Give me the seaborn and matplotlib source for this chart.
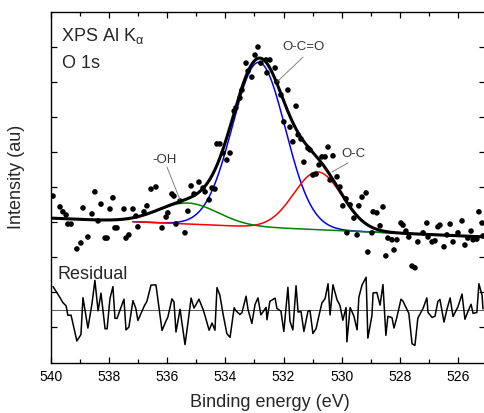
import numpy as np
import matplotlib
matplotlib.use("Agg")
import matplotlib.pyplot as plt
import seaborn as sns
from matplotlib.ticker import MultipleLocator, FixedLocator

# ---------------- data ----------------
energy = [539.93, 539.69, 539.59, 539.48, 539.42, 539.31, 539.11, 538.97, 538.90, 538.73,
          538.59, 538.49, 538.38, 538.28, 538.14, 538.07, 537.97, 537.87, 537.80, 537.73,
          537.49, 537.42, 537.32, 537.18, 537.08, 537.01, 536.80, 536.70, 536.56, 536.39,
          536.18, 536.04, 535.98, 535.84, 535.77, 535.70, 535.56, 535.39, 535.29, 535.18,
          535.08, 534.91, 534.77, 534.70, 534.56, 534.46, 534.36, 534.29, 534.19, 534.08,
          533.95, 533.84, 533.70, 533.64, 533.50, 533.43, 533.29, 533.22, 533.09, 532.98,
          532.88, 532.78, 532.60, 532.57, 532.47, 532.29, 532.23, 532.09, 531.99, 531.85,
          531.78, 531.68, 531.57, 531.50, 531.40, 531.30, 531.16, 531.09, 530.99, 530.88,
          530.78, 530.68, 530.57, 530.47, 530.40, 530.30, 530.16, 530.06, 529.96, 529.85,
          529.82, 529.71, 529.58, 529.47, 529.41, 529.30, 529.16, 529.10, 528.96, 528.92,
          528.79, 528.68, 528.58, 528.48, 528.41, 528.27, 528.20, 528.10, 527.96, 527.89,
          527.79, 527.69, 527.58, 527.48, 527.38, 527.20, 527.07, 527.03, 526.89, 526.79,
          526.69, 526.62, 526.48, 526.38, 526.27, 526.17, 526.00, 525.86, 525.76, 525.66,
          525.55, 525.48, 525.35, 525.28, 525.17, 525.14]
intensity = [4.74, 4.43, 4.29, 4.20, 3.94, 3.94, 3.23, 3.40, 4.40, 3.57,
             4.23, 4.86, 4.03, 4.51, 3.54, 3.54, 4.37, 4.69, 3.83, 3.83,
             4.37, 3.54, 3.63, 4.37, 4.17, 3.86, 4.29, 4.46, 4.94, 5.00,
             3.83, 4.14, 4.26, 4.80, 4.74, 3.94, 4.60, 3.69, 4.31, 5.03,
             4.80, 5.14, 4.97, 4.86, 4.63, 4.97, 4.94, 6.23, 6.23, 5.97,
             5.77, 5.97, 7.17, 7.26, 7.54, 7.77, 8.54, 8.31, 8.14, 8.77,
             9.00, 8.54, 8.63, 8.26, 8.63, 8.40, 8.00, 7.63, 6.86, 7.77,
             6.71, 6.29, 7.31, 6.49, 6.37, 5.71, 6.11, 6.06, 5.34, 5.37,
             5.63, 5.86, 5.86, 6.14, 5.20, 5.89, 5.29, 5.00, 4.46, 4.66,
             3.69, 4.49, 4.11, 3.63, 4.46, 4.71, 4.83, 3.14, 3.69, 4.29,
             4.26, 3.89, 4.43, 3.03, 3.54, 3.49, 3.20, 3.49, 3.97, 3.91,
             3.74, 3.57, 2.74, 2.69, 3.43, 3.69, 3.97, 3.57, 3.43, 3.46,
             3.86, 3.91, 3.29, 3.63, 3.94, 3.43, 3.69, 4.03, 3.34, 3.54,
             3.74, 3.49, 3.51, 4.29, 3.97, 3.60]

# fitted components (Gaussian peak parameters) and linear background
peak_names = ["O-C=O", "O-C", "-OH"]
peak_centers = [532.85, 530.82, 535.29]   # eV
peak_heights = [4.71, 1.65, 0.60]         # au
peak_sigmas = [0.91, 0.83, 1.03]          # eV
bg_energy = [525.0, 540.0]
bg_level = [3.57, 4.11]

residual_offset = 1.49
residual_scale = 1.05

x_ticks = [540, 538, 536, 534, 532, 530, 528, 526]
x_ticklabels = ["540", "538", "536", "534", "532", "530", "528", "526"]

# ---------------- style ----------------
sns.set_theme(style="ticks")
plt.rcParams["font.family"] = ["Liberation Sans", "DejaVu Sans"]
plt.rcParams["mathtext.fontset"] = "custom"
plt.rcParams["mathtext.rm"] = "Liberation Sans"
plt.rcParams["mathtext.it"] = "Liberation Sans"
plt.rcParams["mathtext.bf"] = "Liberation Sans:bold"

energy = np.array(energy)
intensity = np.array(intensity)


def background(e):
    return np.interp(e, bg_energy, bg_level)


def component(e, i):
    return peak_heights[i] * np.exp(-(e - peak_centers[i]) ** 2 / (2 * peak_sigmas[i] ** 2))


def envelope(e):
    return background(e) + sum(component(e, i) for i in range(len(peak_names)))


grid = np.linspace(540.0, 525.0, 800)
fit = envelope(grid)
residual = residual_offset + residual_scale * (intensity - envelope(energy))

fig = plt.figure(figsize=(4.85, 4.13), dpi=100)
ax = fig.add_axes([51 / 485, 1 - 363 / 413, 434 / 485, 351 / 413])

comp_colors = {"O-C=O": "#0000ff", "O-C": "#ff0000", "-OH": "#008000"}
comp_start = {"O-C=O": 537.2, "O-C": 537.2, "-OH": 540.0}
for name in ["O-C=O", "O-C", "-OH"]:
    i = peak_names.index(name)
    m = grid <= comp_start[name]
    sns.lineplot(x=grid[m], y=background(grid[m]) + component(grid[m], i), ax=ax,
                 color=comp_colors[name], lw=1.1, sort=False, estimator=None, zorder=2)

sns.lineplot(x=grid, y=fit, ax=ax, color="black", lw=2.2, sort=False,
             estimator=None, zorder=3)
sns.scatterplot(x=energy, y=intensity, ax=ax, color="black", s=16,
                edgecolor="none", zorder=4)

ax.axhline(residual_offset, color="#404040", lw=0.6, zorder=2)
sns.lineplot(x=energy, y=residual, ax=ax, color="black", lw=1.1, sort=False,
             estimator=None, zorder=3)

ax.set_xlim(540, 525.07)
ax.set_ylim(-0.03, 10.0)
ax.xaxis.set_major_locator(FixedLocator(x_ticks))
ax.set_xticklabels(x_ticklabels)
ax.xaxis.set_minor_locator(MultipleLocator(1))
ax.set_yticks(range(1, 10))
ax.tick_params(which="both", direction="in", top=True, right=True,
               labelleft=False, width=0.9, colors="black")
ax.tick_params(which="major", length=4.5, labelsize=10, pad=5)
ax.tick_params(which="minor", length=2.6)
for s in ax.spines.values():
    s.set_linewidth(1.0)
    s.set_color("black")

ax.set_xlabel("Binding energy (eV)", fontsize=13)
ax.set_ylabel("Intensity (au)", fontsize=13)
ax.xaxis.set_label_coords(0.505, -0.088)
ax.yaxis.set_label_coords(-0.06, 0.53)

ax.text(539.66, 9.17, r"XPS Al K$_{\mathrm{\alpha}}$", fontsize=13, va="baseline")
ax.text(539.62, 8.40, "O 1s", fontsize=13, va="baseline")
ax.text(539.79, 2.37, "Residual", fontsize=13, va="baseline")

ann = [("-OH", 536.11, 5.77, 536.01, 5.57, 535.56, 4.63),
       ("O-C=O", 531.30, 9.00, 531.33, 8.71, 532.23, 8.00),
       ("O-C", 529.61, 5.94, 529.78, 5.69, 530.33, 5.43)]
for label, tx, ty, x0, y0, x1, y1 in ann:
    ax.text(tx, ty, label, fontsize=9.5, ha="center", va="center", color="#333333")
    ax.plot([x0, x1], [y0, y1], color="#707070", lw=0.6, zorder=5)

fig.savefig("out.png", dpi=100)
